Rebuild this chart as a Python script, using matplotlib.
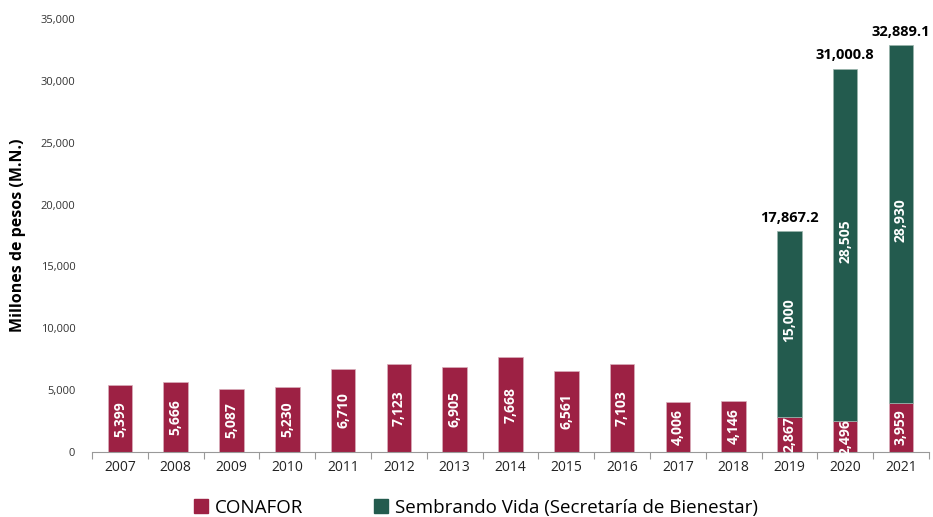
import matplotlib
matplotlib.use("Agg")
import matplotlib.pyplot as plt
import numpy as np
from matplotlib.patches import Patch

years = ["2007", "2008", "2009", "2010", "2011", "2012", "2013", "2014",
         "2015", "2016", "2017", "2018", "2019", "2020", "2021"]
conafor = [5399, 5666, 5087, 5230, 6710, 7123, 6905, 7668, 6561, 7103,
           4006, 4146, 2867, 2496, 3959]
sembrando = [0, 0, 0, 0, 0, 0, 0, 0, 0, 0, 0, 0, 15000, 28505, 28930]
totals = {12: "17,867.2", 13: "31,000.8", 14: "32,889.1"}
yticks = [0, 5000, 10000, 15000, 20000, 25000, 30000, 35000]

RED = "#9D2144"
GREEN = "#235B4E"
plt.rcParams['font.family'] = ['Open Sans', 'DejaVu Sans']

fig = plt.figure(figsize=(9.33, 5.17), dpi=100)
ax = fig.add_axes([0.0986, 0.1257, 0.897, 0.8373])

x = np.arange(len(years))
w = 0.44
ax.bar(x, conafor, width=w, color=RED, edgecolor="#d9b0bb", linewidth=0.5, zorder=2)
idx = [i for i, v in enumerate(sembrando) if v > 0]
ax.bar(x[idx], [sembrando[i] for i in idx], width=w,
       bottom=[conafor[i] for i in idx], color=GREEN, edgecolor="#9bb5ad",
       linewidth=0.5, zorder=2)

for i, v in enumerate(conafor):
    ax.text(x[i], v / 2, f"{v:,}", rotation=90, ha="center", va="center",
            color="white", fontsize=10, fontweight="bold", zorder=3)
for i in idx:
    v = sembrando[i]
    ax.text(x[i], conafor[i] + v / 2 + 300, f"{v:,}", rotation=90, ha="center",
            va="center", color="white", fontsize=10, fontweight="bold", zorder=3)
for i, t in totals.items():
    ax.text(x[i], conafor[i] + sembrando[i] + 500, t, ha="center", va="bottom",
            color="black", fontsize=10.5, fontweight="bold")

ax.set_xlim(-0.5, len(years) - 0.5)
ax.set_ylim(0, 35000)
ax.set_yticks(yticks)
ax.set_yticklabels([f"{v:,}" for v in yticks], fontsize=8, color="#333333")
ax.tick_params(axis="y", length=0, pad=12)
ax.set_xticks(x)
ax.set_xticklabels(years, fontsize=10, color="#222222")
ax.tick_params(axis="x", length=0, pad=6)
ax.set_xticks(np.arange(-0.5, len(years), 1), minor=True)
ax.tick_params(axis="x", which="minor", length=5, color="#999999", width=0.8)

for s in ["top", "right", "left"]:
    ax.spines[s].set_visible(False)
ax.spines["bottom"].set_color("#999999")
ax.spines["bottom"].set_linewidth(0.8)

fig.text(0.019, 0.545, "Millones de pesos (M.N.)", rotation=90, ha="center",
         va="center", fontsize=11.5, fontweight="bold")

handles = [Patch(color=RED), Patch(color=GREEN)]
fig.legend(handles, ["CONAFOR", "Sembrando Vida (Secretaría de Bienestar)"],
           loc="center", bbox_to_anchor=(0.51, 0.018), ncol=2, frameon=False,
           fontsize=13.5, handlelength=0.75, handleheight=0.75, handletextpad=0.35,
           columnspacing=3.8)

fig.savefig("out.png", dpi=100)
